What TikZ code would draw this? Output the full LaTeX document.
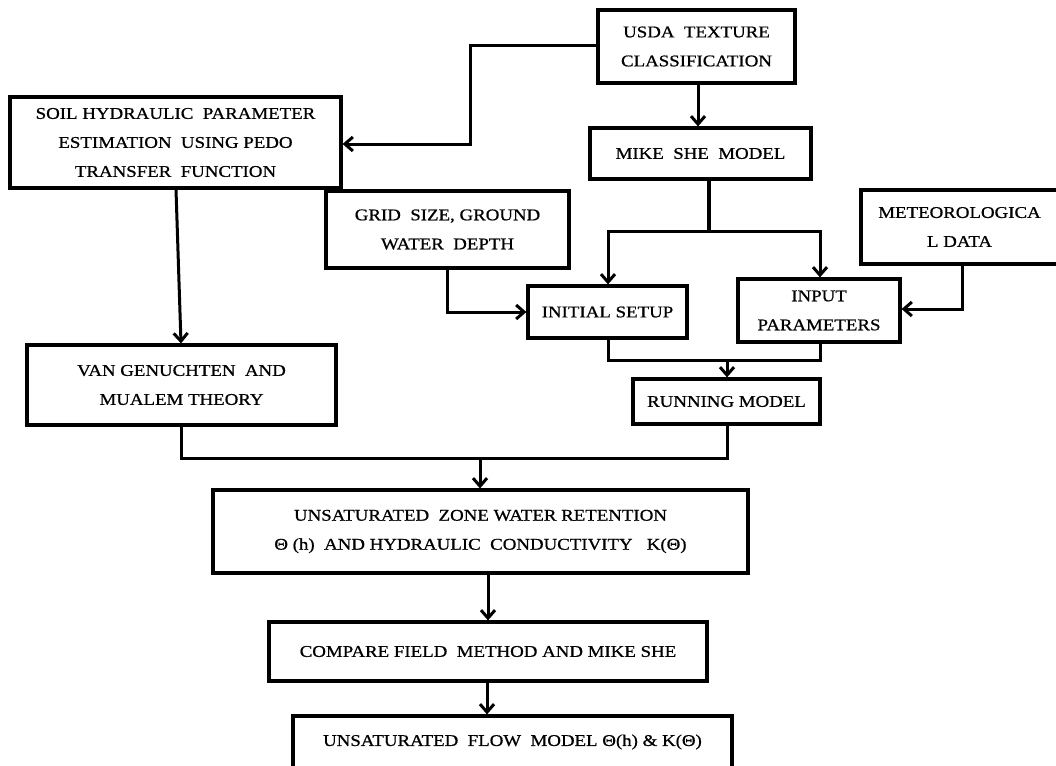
\documentclass[tikz,border=0pt]{standalone}
\usepackage{fontspec}
\setmainfont{Liberation Serif}[FakeStretch=1.15,FakeBold=0.8]
\usetikzlibrary{arrows.meta}
\begin{document}
\begin{tikzpicture}[x=1pt,y=-1pt,
  box/.style={draw=black, line width=3.2pt, rectangle, inner sep=0pt, align=center,
    font=\fontsize{16.4}{29}\selectfont},
  conn/.style={line width=3pt},
  arr/.style={line width=3pt, -{Straight Barb[length=8pt,width=14pt,line width=3pt]}}
]
\useasboundingbox (0,0) rectangle (1056,765);

% boxes (x-range / y-range from reference)
\node[box, minimum width=197pt, minimum height=73pt] (usda) at (696.5,46.5) {USDA~~TEXTURE\\CLASSIFICATION};
\node[box, minimum width=221pt, minimum height=51pt] (mike) at (700.5,153.5) {MIKE~~SHE~~MODEL};
\node[box, minimum width=331pt, minimum height=91pt] (soil) at (175.5,142.5) {SOIL HYDRAULIC~~PARAMETER\\ESTIMATION~~USING PEDO\\TRANSFER~~FUNCTION};
\node[box, minimum width=243pt, minimum height=77pt] (grid) at (447.5,229.5) {GRID~~SIZE, GROUND\\WATER~~DEPTH};
\node[box, minimum width=197pt, minimum height=74pt] (meteo) at (959.5,227) {METEOROLOGICA\\L DATA};
\node[box, minimum width=159pt, minimum height=52pt] (init) at (607.5,312) {INITIAL SETUP};
\node[box, minimum width=162pt, minimum height=63pt] (input) at (819,310.5) {INPUT\\PARAMETERS};
\node[box, minimum width=187pt, minimum height=45pt] (run) at (726.5,401.5) {RUNNING MODEL};
\node[box, minimum width=309pt, minimum height=80pt] (vang) at (181.5,385) {VAN GENUCHTEN~~AND\\MUALEM THEORY};
\node[box, minimum width=535pt, minimum height=83pt] (unsat) at (480.5,531.5) {UNSATURATED~~ZONE WATER RETENTION\\Θ (h)~~AND HYDRAULIC~~CONDUCTIVITY~~~K(Θ)};
\node[box, minimum width=438pt, minimum height=59pt] (comp) at (488,651.5) {COMPARE FIELD~~METHOD AND MIKE SHE};
\node[box, minimum width=439pt, minimum height=52pt] (final) at (512.5,742) {UNSATURATED~~FLOW~~MODEL Θ(h) \& K(Θ)};

% junction coordinates
\coordinate (j1) at (470,46);
\coordinate (j2) at (709,231);
\coordinate (j3) at (727,360);
\coordinate (j4) at (480,458);

% connectors
\draw[arr] (usda.west |- j1) -| (j1) |- (soil.east |- 0,144);
\draw[arr] (usda.south -| 698,0) -- (mike.north -| 698,0);
\draw[line width=4pt] (mike.south -| j2) -- (j2);
\draw[arr] (j2) -| (init.north -| 608,0);
\draw[arr] (j2) -| (input.north -| 820,0);
\draw[arr] (grid.south -| 447,0) |- (init.west |- 0,312);
\draw[arr] (meteo.south -| 962,0) |- (input.east |- 0,309);
\draw[conn] (init.south -| 608,0) |- (j3);
\draw[conn] (input.south -| 820,0) |- (j3);
\draw[arr] (j3) -- (run.north -| j3);
\draw[arr] (soil.south -| 176,0) -- (vang.north -| 181,0);
\draw[conn] (vang.south -| 181,0) |- (j4);
\draw[conn] (run.south -| 727,0) |- (j4);
\draw[arr] (j4) -- (unsat.north -| j4);
\draw[arr] (unsat.south -| 488,0) -- (comp.north -| 488,0);
\draw[arr] (comp.south -| 487,0) -- (final.north -| 487,0);
\end{tikzpicture}
\end{document}
